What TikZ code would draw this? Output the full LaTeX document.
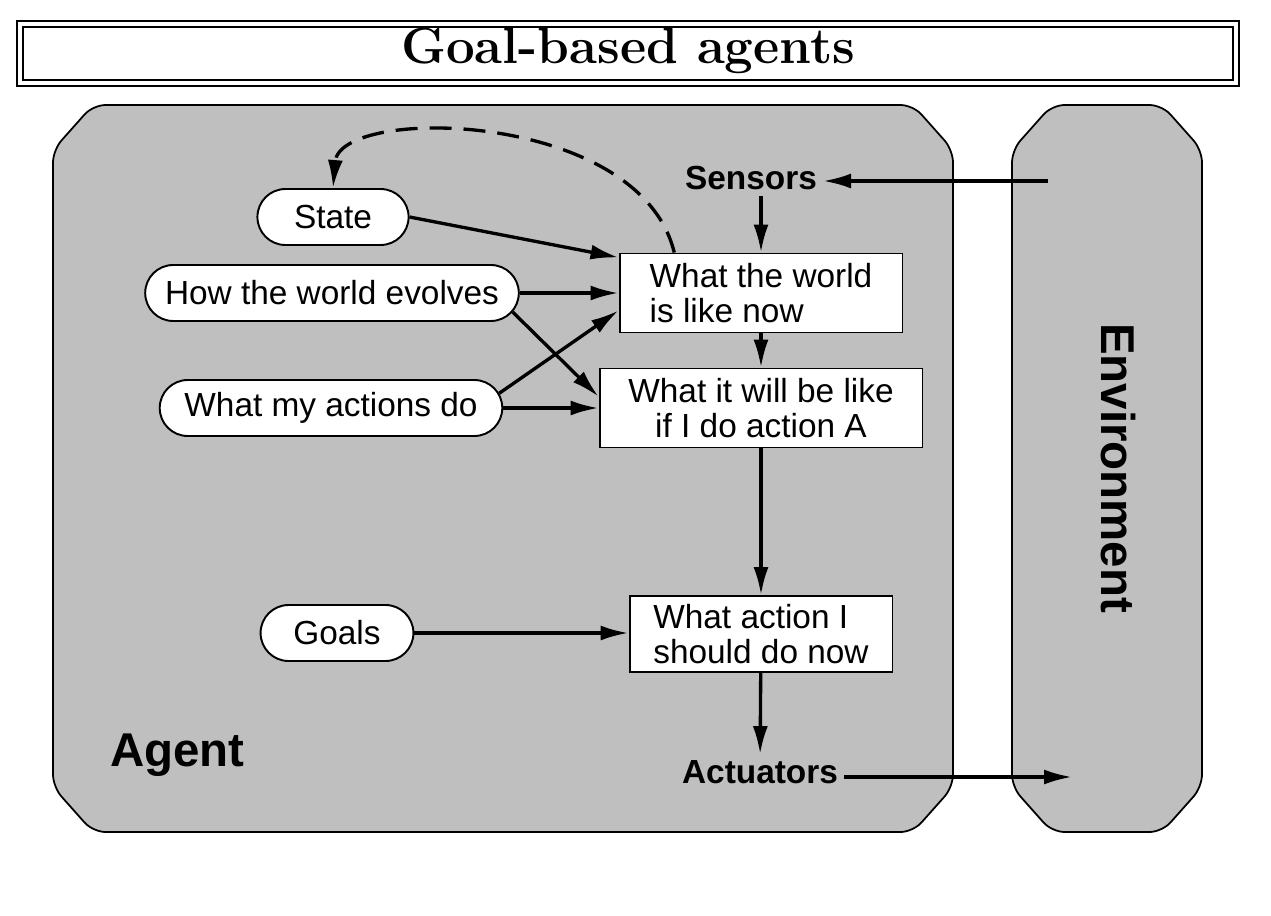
\documentclass[tikz,border=0pt]{standalone}
\usepackage{fontspec}
\setsansfont{Liberation Sans}
\usetikzlibrary{shapes.misc, arrows.meta, positioning}
\definecolor{agentgray}{RGB}{191, 191, 191}

\begin{document}
\begin{tikzpicture}[
  x=0.02cm, y=-0.02cm,
  pill/.style={rounded rectangle, draw, fill=white, line width=1.1pt,
               minimum height=1.12cm, inner xsep=0.6cm, font=\sffamily\fontsize{19}{19.5}\selectfont},
  box/.style={rectangle, draw, fill=white, line width=1.1pt, align=left,
              font=\sffamily\fontsize{19}{20}\selectfont},
  lbl/.style={font=\sffamily\bfseries\fontsize{19}{19.5}\selectfont},
  big/.style={font=\sffamily\bfseries\fontsize{27}{28}\selectfont},
  frame/.style={draw, line width=1pt, fill=agentgray, rounded corners=0.25cm},
  arr/.style={-{Latex[length=0.56cm, width=0.3cm]}, line width=1.9pt}
]
  \useasboundingbox (0,0) rectangle (1271,916);
  % title bar
  \draw[line width=1.6pt] (17,21) rectangle (1239,86);
  \draw[line width=1.6pt] (23,27) rectangle (1233,80);
  \node[font=\fontsize{29}{30}\selectfont\bfseries] (title) at (628,51) {Goal-based agents};
  % agent and environment
  \draw[frame] (53,150) -- (93,105) -- (913,105) -- (953,150) -- (953,787)
    -- (913,832) -- (93,832) -- (53,787) -- cycle;
  \draw[frame] (1012,150) -- (1052,105) -- (1162,105) -- (1202,150) -- (1202,787)
    -- (1162,832) -- (1052,832) -- (1012,787) -- cycle;
  \node[big, anchor=west] (agent) at (104,755) {Agent};
  \node[big, rotate=-90] (env) at (1118,468) {Environment};
  \coordinate (envin) at (1048,181);
  \coordinate (envout) at (1072,777);
  % inside the agent
  \node[lbl] (sensors) at (751,178) {Sensors};
  \node[lbl] (actuators) at (760,772) {Actuators};
  \node[pill, inner xsep=0.68cm] (state) at (333,217) {State};
  \node[pill, inner xsep=0.34cm] (evolves) at (332,293) {How the world evolves};
  \node[pill, inner xsep=0.4cm] (actions) at (331,408) {What my actions do};
  \node[pill] (goals) at (337,633) {Goals};
  \node[box, minimum width=5.66cm, minimum height=1.58cm] (wnow) at (761,293) {What the world\\is like now};
  \node[box, align=center, minimum width=6.46cm, minimum height=1.58cm] (wnext) at (761,408) {What it will be like\\if I do action A};
  \node[box, minimum width=5.26cm, minimum height=1.52cm] (wact) at (761,634) {What action I\\should do now};
  % connectors
  \draw[arr] (envin) -- (envin -| sensors.east);
  \draw[arr] (sensors.south -| wnow.north) -- (wnow.north);
  \draw[arr] (state.east) -- (wnow.166);
  \draw[arr] (evolves.east) -- (wnow.west |- evolves.east);
  \draw[arr] (evolves.-6) -- (wnext.176);
  \draw[arr] (actions.5) -- (wnow.187);
  \draw[arr] (actions.east) -- (wnext.west |- actions.east);
  \draw[arr] (wnow) -- (wnext);
  \draw[arr] (wnext) -- (wact);
  \draw[arr] (goals.east) -- (wact.west |- goals.east);
  \draw[arr] (wact) -- (actuators);
  \draw[arr] (actuators.east |- envout) -- (envout);
  \draw[arr, dash pattern=on 0.44cm off 0.24cm] (wnow.155) .. controls (640,110) and (340,105) .. (state.north);
\end{tikzpicture}
\end{document}
